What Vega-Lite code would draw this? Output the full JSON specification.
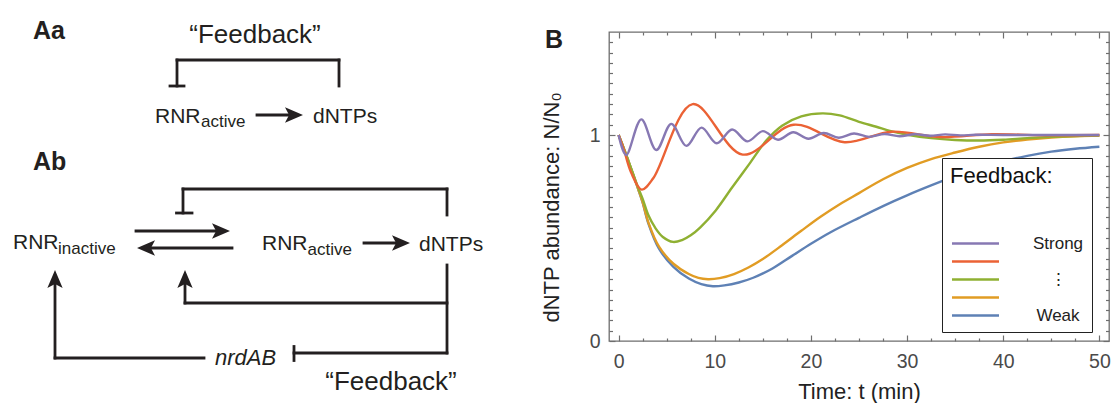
{
  "$schema": "https://vega.github.io/schema/vega-lite/v6.json",
  "width": 500,
  "height": 309,
  "autosize": {"type": "none"},
  "padding": {"left": 609, "top": 32, "right": 2, "bottom": 62},
  "background": "#ffffff",
  "config": {
    "font": "Liberation Sans",
    "view": {"stroke": "#6e6e6e", "strokeWidth": 1.3},
    "axis": {"grid": false, "domain": false, "labelFont": "Liberation Sans", "titleFont": "Liberation Sans", "labelFontSize": 19.5, "titleFontSize": 22, "titleFontWeight": "normal", "labelColor": "#4a4a4a", "titleColor": "#222222", "tickColor": "#6e6e6e", "tickWidth": 1.2, "labelFlush": false, "labelOverlap": false}
  },
  "datasets": {
    "curves": [
      {"s":"s5","t":0,"v":1},{"s":"s5","t":0.5,"v":0.94},{"s":"s5","t":1,"v":0.876},{"s":"s5","t":1.5,"v":0.81},{"s":"s5","t":2,"v":0.742},{"s":"s5","t":2.5,"v":0.672},{"s":"s5","t":3.1,"v":0.57},{"s":"s5","t":4.2,"v":0.448},{"s":"s5","t":5.7,"v":0.36},{"s":"s5","t":7.3,"v":0.303},{"s":"s5","t":8.6,"v":0.276},{"s":"s5","t":9.8,"v":0.266},{"s":"s5","t":11,"v":0.27},{"s":"s5","t":12.5,"v":0.284},{"s":"s5","t":14,"v":0.307},{"s":"s5","t":16,"v":0.352},{"s":"s5","t":18,"v":0.412},{"s":"s5","t":20,"v":0.472},{"s":"s5","t":22,"v":0.527},{"s":"s5","t":25,"v":0.598},{"s":"s5","t":27.5,"v":0.655},{"s":"s5","t":30,"v":0.707},{"s":"s5","t":32.5,"v":0.755},{"s":"s5","t":35,"v":0.8},{"s":"s5","t":37.5,"v":0.84},{"s":"s5","t":40,"v":0.873},{"s":"s5","t":42.5,"v":0.899},{"s":"s5","t":45,"v":0.919},{"s":"s5","t":47.5,"v":0.933},{"s":"s5","t":50,"v":0.943},
      {"s":"s4","t":0,"v":1},{"s":"s4","t":0.5,"v":0.94},{"s":"s4","t":1,"v":0.876},{"s":"s4","t":1.5,"v":0.81},{"s":"s4","t":2,"v":0.742},{"s":"s4","t":2.5,"v":0.674},{"s":"s4","t":3.1,"v":0.575},{"s":"s4","t":4.2,"v":0.458},{"s":"s4","t":5.7,"v":0.375},{"s":"s4","t":7.3,"v":0.325},{"s":"s4","t":8.3,"v":0.306},{"s":"s4","t":9.3,"v":0.3},{"s":"s4","t":10.5,"v":0.305},{"s":"s4","t":12,"v":0.325},{"s":"s4","t":13.5,"v":0.357},{"s":"s4","t":15,"v":0.398},{"s":"s4","t":17,"v":0.465},{"s":"s4","t":19,"v":0.535},{"s":"s4","t":21,"v":0.603},{"s":"s4","t":23,"v":0.664},{"s":"s4","t":25,"v":0.718},{"s":"s4","t":27.5,"v":0.785},{"s":"s4","t":30,"v":0.84},{"s":"s4","t":32.5,"v":0.883},{"s":"s4","t":35,"v":0.915},{"s":"s4","t":37.5,"v":0.943},{"s":"s4","t":40,"v":0.964},{"s":"s4","t":42.5,"v":0.978},{"s":"s4","t":45,"v":0.988},{"s":"s4","t":47.5,"v":0.994},{"s":"s4","t":50,"v":0.997},
      {"s":"s3","t":0,"v":1},{"s":"s3","t":0.5,"v":0.94},{"s":"s3","t":1,"v":0.877},{"s":"s3","t":1.5,"v":0.812},{"s":"s3","t":2,"v":0.748},{"s":"s3","t":2.5,"v":0.69},{"s":"s3","t":3.1,"v":0.61},{"s":"s3","t":3.8,"v":0.55},{"s":"s3","t":4.6,"v":0.505},{"s":"s3","t":5.66,"v":0.481},{"s":"s3","t":6.6,"v":0.49},{"s":"s3","t":7.5,"v":0.513},{"s":"s3","t":8.5,"v":0.552},{"s":"s3","t":10.1,"v":0.634},{"s":"s3","t":11.8,"v":0.745},{"s":"s3","t":13.6,"v":0.86},{"s":"s3","t":15.4,"v":0.975},{"s":"s3","t":17,"v":1.045},{"s":"s3","t":19,"v":1.09},{"s":"s3","t":21.2,"v":1.105},{"s":"s3","t":23,"v":1.095},{"s":"s3","t":25,"v":1.064},{"s":"s3","t":26.8,"v":1.04},{"s":"s3","t":28.2,"v":1.02},{"s":"s3","t":30.2,"v":1.0},{"s":"s3","t":32.5,"v":0.985},{"s":"s3","t":35,"v":0.976},{"s":"s3","t":37.5,"v":0.973},{"s":"s3","t":40,"v":0.977},{"s":"s3","t":42.5,"v":0.985},{"s":"s3","t":45,"v":0.991},{"s":"s3","t":47.5,"v":0.995},{"s":"s3","t":50,"v":0.997},
      {"s":"s2","t":0,"v":1},{"s":"s2","t":0.6,"v":0.92},{"s":"s2","t":1.3,"v":0.818},{"s":"s2","t":2.4,"v":0.735},{"s":"s2","t":3.6,"v":0.79},{"s":"s2","t":7.7,"v":1.15},{"s":"s2","t":12.9,"v":0.905},{"s":"s2","t":18.2,"v":1.05},{"s":"s2","t":23.5,"v":0.965},{"s":"s2","t":28.4,"v":1.016},{"s":"s2","t":33.5,"v":0.99},{"s":"s2","t":38.8,"v":1.004},{"s":"s2","t":44,"v":0.999},{"s":"s2","t":50,"v":1.0},
      {"s":"s1","t":0,"v":1},{"s":"s1","t":0.78,"v":0.903},{"s":"s1","t":2.36,"v":1.076},{"s":"s1","t":3.92,"v":0.927},{"s":"s1","t":5.48,"v":1.054},{"s":"s1","t":7.05,"v":0.947},{"s":"s1","t":8.62,"v":1.036},{"s":"s1","t":10.2,"v":0.96},{"s":"s1","t":11.8,"v":1.027},{"s":"s1","t":13.4,"v":0.969},{"s":"s1","t":15.0,"v":1.019},{"s":"s1","t":16.58,"v":0.977},{"s":"s1","t":18.16,"v":1.013},{"s":"s1","t":19.74,"v":0.982},{"s":"s1","t":21.32,"v":1.01},{"s":"s1","t":22.9,"v":0.987},{"s":"s1","t":24.48,"v":1.007},{"s":"s1","t":26.06,"v":0.991},{"s":"s1","t":27.64,"v":1.005},{"s":"s1","t":29.22,"v":0.994},{"s":"s1","t":30.8,"v":1.004},{"s":"s1","t":32.38,"v":0.996},{"s":"s1","t":33.96,"v":1.003},{"s":"s1","t":35.54,"v":0.998},{"s":"s1","t":37.12,"v":1.001},{"s":"s1","t":40,"v":1.0},{"s":"s1","t":45,"v":1.0},{"s":"s1","t":50,"v":1.0}
    ],
    "segs": [
      {"x":177,"y":60,"x2":339,"y2":60},{"x":177,"y":60,"x2":177,"y2":86},{"x":170,"y":86,"x2":184,"y2":86},{"x":339,"y":60,"x2":339,"y2":86},{"x":257,"y":115,"x2":295,"y2":115},
      {"x":183,"y":189,"x2":447,"y2":189},{"x":183,"y":189,"x2":183,"y2":213},{"x":176.5,"y":213,"x2":192,"y2":213},{"x":447,"y":189,"x2":447,"y2":215},
      {"x":136,"y":231,"x2":222,"y2":231},{"x":232,"y":248,"x2":145,"y2":248},{"x":364,"y":243,"x2":402,"y2":243},
      {"x":447,"y":265,"x2":447,"y2":353},{"x":447,"y":303,"x2":185,"y2":303},{"x":185,"y":303,"x2":185,"y2":278},
      {"x":447,"y":353,"x2":294,"y2":353},{"x":294,"y":346.5,"x2":294,"y2":360.5},{"x":204,"y":358,"x2":55,"y2":358},{"x":55,"y":358,"x2":55,"y2":278}
    ],
    "heads": [
      {"x":294,"y":115,"dir":"right"},{"x":221,"y":231,"dir":"right"},{"x":146,"y":248,"dir":"left"},{"x":401,"y":243,"dir":"right"},{"x":185,"y":279,"dir":"up"},{"x":55,"y":279,"dir":"up"}
    ],
    "lab": [
      {"x":155,"y":123,"text":"RNR"},{"x":313,"y":123,"text":"dNTPs"},{"x":13,"y":249,"text":"RNR"},{"x":262,"y":250,"text":"RNR"},{"x":419,"y":251,"text":"dNTPs"}
    ],
    "subs": [
      {"x":201,"y":127,"text":"active"},{"x":58,"y":254,"text":"inactive"},{"x":307.5,"y":255,"text":"active"}
    ],
    "quotes": [
      {"x":255,"y":43,"text":"“Feedback”"},{"x":391,"y":390,"text":"“Feedback”"}
    ],
    "bold": [
      {"x":33,"y":39,"text":"Aa"},{"x":33,"y":170,"text":"Ab"},{"x":545,"y":48,"text":"B"}
    ],
    "ital": [
      {"x":215,"y":365,"text":"nrdAB"}
    ]
  },
  "layer": [
    {
      "layer": [
        {
          "data": {"name": "curves"},
          "mark": {"type": "line", "interpolate": "catmull-rom", "strokeWidth": 2.4},
          "encoding": {
            "x": {"field": "t", "type": "quantitative", "scale": {"domain": [-1, 51], "nice": false, "zero": false},
                  "axis": {"orient": "bottom", "values": [0,10,20,30,40,50], "title": "Time: t (min)", "tickSize": -6, "labelPadding": 17, "titlePadding": 11}},
            "y": {"field": "v", "type": "quantitative", "scale": {"domain": [0, 1.5], "nice": false, "zero": false},
                  "axis": {"orient": "left", "values": [0, 1], "title": "dNTP abundance: N/N₀", "tickSize": -6, "labelPadding": 15, "titlePadding": 26, "titleY": 175}},
            "color": {"field": "s", "type": "nominal",
                      "scale": {"domain": ["s1","s2","s3","s4","s5"], "range": ["#8778B3","#EB6235","#8FB032","#E19C24","#5E81B5"]},
                      "legend": {"orient": "none", "legendX": 333, "legendY": 126, "title": "Feedback:", "titleFontSize": 22, "titleFontWeight": "normal", "titleColor": "#111111", "titlePadding": 47, "titleFont": "Liberation Sans", "titleBaseline": "top",
                                 "strokeColor": "#222222", "fillColor": "#ffffff", "padding": 8,
                                 "symbolType": "M-5,0H5", "symbolSize": 88.4, "symbolStrokeWidth": 2.7, "symbolOffset": 17,
                                 "labelExpr": "datum.value == 's1' ? 'Strong' : datum.value == 's3' ? '⋮' : datum.value == 's5' ? 'Weak' : ''",
                                 "labelFontSize": 17, "labelFont": "Liberation Sans", "labelColor": "#222222", "labelAlign": "center", "labelOffset": 74, "rowPadding": 0}}
          }
        },
        {
          "data": {"name": "curves"},
          "mark": {"type": "point", "opacity": 0},
          "encoding": {
            "x": {"field": "t", "type": "quantitative", "scale": {"domain": [-1, 51], "nice": false, "zero": false},
                  "axis": {"orient": "bottom", "values": [2.5,5,7.5,12.5,15,17.5,22.5,25,27.5,32.5,35,37.5,42.5,45,47.5], "labels": false, "title": null, "tickSize": -3}},
            "y": {"field": "v", "type": "quantitative", "scale": {"domain": [0, 1.5], "nice": false, "zero": false},
                  "axis": {"orient": "left", "values": [0.05,0.1,0.15,0.2,0.25,0.3,0.35,0.4,0.45,0.5,0.55,0.6,0.65,0.7,0.75,0.8,0.85,0.9,0.95,1.05,1.1,1.15,1.2,1.25,1.3,1.35,1.4,1.45], "labels": false, "title": null, "tickSize": -3.5}}
          }
        },
        {
          "data": {"name": "curves"},
          "mark": {"type": "point", "opacity": 0},
          "encoding": {
            "x": {"field": "t", "type": "quantitative", "scale": {"domain": [-1, 51], "nice": false, "zero": false},
                  "axis": {"orient": "top", "values": [0,10,20,30,40,50], "labels": false, "title": null, "tickSize": -6}},
            "y": {"field": "v", "type": "quantitative", "scale": {"domain": [0, 1.5], "nice": false, "zero": false},
                  "axis": {"orient": "right", "values": [0, 1], "labels": false, "title": null, "tickSize": -6}}
          }
        },
        {
          "data": {"name": "curves"},
          "mark": {"type": "point", "opacity": 0},
          "encoding": {
            "x": {"field": "t", "type": "quantitative", "scale": {"domain": [-1, 51], "nice": false, "zero": false},
                  "axis": {"orient": "top", "values": [2.5,5,7.5,12.5,15,17.5,22.5,25,27.5,32.5,35,37.5,42.5,45,47.5], "labels": false, "title": null, "tickSize": -3}},
            "y": {"field": "v", "type": "quantitative", "scale": {"domain": [0, 1.5], "nice": false, "zero": false},
                  "axis": {"orient": "right", "values": [0.05,0.1,0.15,0.2,0.25,0.3,0.35,0.4,0.45,0.5,0.55,0.6,0.65,0.7,0.75,0.8,0.85,0.9,0.95,1.05,1.1,1.15,1.2,1.25,1.3,1.35,1.4,1.45], "labels": false, "title": null, "tickSize": -3.5}}
          }
        }
      ],
      "resolve": {"axis": {"x": "independent", "y": "independent"}}
    },
    {
      "layer": [
        {
          "data": {"name": "segs"},
          "mark": {"type": "rule", "color": "#231f20", "strokeWidth": 2.8, "strokeCap": "square"},
          "encoding": {
            "x": {"field": "x", "type": "quantitative", "scale": {"domain": [609, 1109], "nice": false, "zero": false}, "axis": null},
            "y": {"field": "y", "type": "quantitative", "scale": {"domain": [32, 341], "nice": false, "zero": false, "reverse": true}, "axis": null},
            "x2": {"field": "x2"},
            "y2": {"field": "y2"}
          }
        },
        {
          "data": {"name": "heads"},
          "mark": {"type": "point", "filled": true, "color": "#231f20", "opacity": 1, "size": 324, "strokeWidth": 0},
          "encoding": {
            "x": {"field": "x", "type": "quantitative", "scale": {"domain": [609, 1109], "nice": false, "zero": false}, "axis": null},
            "y": {"field": "y", "type": "quantitative", "scale": {"domain": [32, 341], "nice": false, "zero": false, "reverse": true}, "axis": null},
            "shape": {"field": "dir", "type": "nominal", "scale": {"domain": ["right","left","up"], "range": ["M1,0L-1,-0.85L-0.55,0L-1,0.85Z","M-1,0L1,-0.85L0.55,0L1,0.85Z","M0,-1L-0.85,1L0,0.55L0.85,1Z"]}, "legend": null}
          }
        },
        {
          "data": {"name": "lab"},
          "mark": {"type": "text", "align": "left", "baseline": "alphabetic", "fontSize": 21, "font": "Liberation Sans", "color": "#231f20"},
          "encoding": {
            "x": {"field": "x", "type": "quantitative", "scale": {"domain": [609, 1109], "nice": false, "zero": false}, "axis": null},
            "y": {"field": "y", "type": "quantitative", "scale": {"domain": [32, 341], "nice": false, "zero": false, "reverse": true}, "axis": null},
            "text": {"field": "text"}
          }
        },
        {
          "data": {"name": "subs"},
          "mark": {"type": "text", "align": "left", "baseline": "alphabetic", "fontSize": 17, "font": "Liberation Sans", "color": "#231f20"},
          "encoding": {
            "x": {"field": "x", "type": "quantitative", "scale": {"domain": [609, 1109], "nice": false, "zero": false}, "axis": null},
            "y": {"field": "y", "type": "quantitative", "scale": {"domain": [32, 341], "nice": false, "zero": false, "reverse": true}, "axis": null},
            "text": {"field": "text"}
          }
        },
        {
          "data": {"name": "quotes"},
          "mark": {"type": "text", "align": "center", "baseline": "alphabetic", "fontSize": 26, "font": "Liberation Sans", "color": "#231f20"},
          "encoding": {
            "x": {"field": "x", "type": "quantitative", "scale": {"domain": [609, 1109], "nice": false, "zero": false}, "axis": null},
            "y": {"field": "y", "type": "quantitative", "scale": {"domain": [32, 341], "nice": false, "zero": false, "reverse": true}, "axis": null},
            "text": {"field": "text"}
          }
        },
        {
          "data": {"name": "bold"},
          "mark": {"type": "text", "align": "left", "baseline": "alphabetic", "fontSize": 25, "fontWeight": "bold", "font": "Liberation Sans", "color": "#231f20"},
          "encoding": {
            "x": {"field": "x", "type": "quantitative", "scale": {"domain": [609, 1109], "nice": false, "zero": false}, "axis": null},
            "y": {"field": "y", "type": "quantitative", "scale": {"domain": [32, 341], "nice": false, "zero": false, "reverse": true}, "axis": null},
            "text": {"field": "text"}
          }
        },
        {
          "data": {"name": "ital"},
          "mark": {"type": "text", "align": "left", "baseline": "alphabetic", "fontSize": 22, "fontStyle": "italic", "font": "Liberation Sans", "color": "#231f20"},
          "encoding": {
            "x": {"field": "x", "type": "quantitative", "scale": {"domain": [609, 1109], "nice": false, "zero": false}, "axis": null},
            "y": {"field": "y", "type": "quantitative", "scale": {"domain": [32, 341], "nice": false, "zero": false, "reverse": true}, "axis": null},
            "text": {"field": "text"}
          }
        }
      ]
    }
  ],
  "resolve": {"scale": {"x": "independent", "y": "independent"}}
}
